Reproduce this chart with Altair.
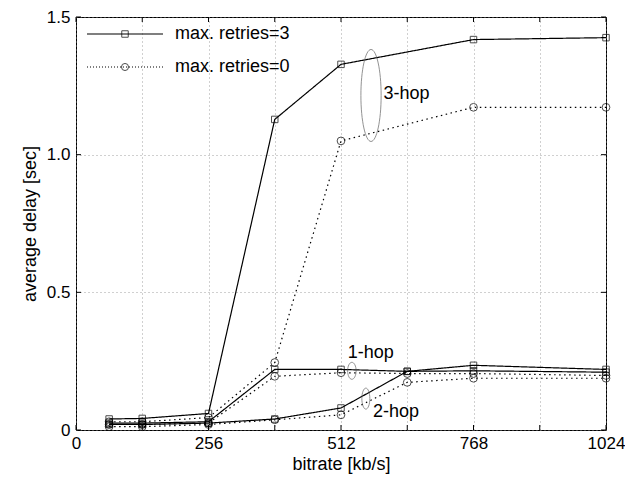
import altair as alt
import pandas as pd

# ---------------- data ----------------
bitrate = [64, 128, 256, 384, 512, 640, 768, 1024]
hop3_r3 = [0.040, 0.042, 0.060, 1.128, 1.328, None, 1.418, 1.425]
hop3_r0 = [0.030, 0.030, 0.045, 0.245, 1.050, None, 1.172, 1.172]
hop1_r3 = [0.025, 0.025, 0.030, 0.220, 0.220, 0.213, 0.235, 0.220]
hop1_r0 = [0.020, 0.020, 0.025, 0.195, 0.208, 0.205, 0.205, 0.198]
hop2_r3 = [0.020, 0.020, 0.025, 0.040, 0.080, 0.213, 0.215, 0.210]
hop2_r0 = [0.012, 0.012, 0.020, 0.037, 0.055, 0.173, 0.188, 0.188]

retry_labels = ["max. retries=3", "max. retries=0"]
x_tick_values = [0, 128, 256, 384, 512, 640, 768, 896, 1024]
y_tick_values = [0, 0.5, 1.0, 1.5]

series = [
    ("3-hop", retry_labels[0], hop3_r3),
    ("3-hop", retry_labels[1], hop3_r0),
    ("1-hop", retry_labels[0], hop1_r3),
    ("1-hop", retry_labels[1], hop1_r0),
    ("2-hop", retry_labels[0], hop2_r3),
    ("2-hop", retry_labels[1], hop2_r0),
]
rows = []
for hop, ret, vals in series:
    for b, v in zip(bitrate, vals):
        if v is not None:
            rows.append({"bitrate": b, "delay": v, "hop": hop,
                         "retries": ret, "series": hop + " " + ret})
df = pd.DataFrame(rows)

FONT = "Liberation Sans"
FS = 18
LFS = 17
W, H = 530, 413
XT = "bitrate [kb/s]"
YT = "average delay [sec]"

x_scale = alt.Scale(domain=[0, 1024], nice=False, zero=False)
y_scale = alt.Scale(domain=[0, 1.5], nice=False)

x_axis = alt.Axis(values=x_tick_values, title=XT,
                  labelExpr="datum.value % 256 == 0 ? format(datum.value, 'd') : ''",
                  grid=True, gridDash=[1, 3], gridColor="#888", gridWidth=0.8,
                  ticks=False, domain=False, labelPadding=5, titlePadding=4,
                  labelFlush=False)
y_axis = alt.Axis(values=y_tick_values, title=YT,
                  labelExpr="datum.value == 0 ? '0' : format(datum.value, '.1f')",
                  grid=True, gridDash=[1, 3], gridColor="#888", gridWidth=0.8,
                  ticks=False, domain=False, labelPadding=6, titlePadding=7,
                  labelFlush=False)

dash_scale = alt.Scale(domain=retry_labels, range=[[1, 0], [1.5, 3.5]])
shape_scale = alt.Scale(domain=retry_labels, range=["square", "circle"])
size_scale = alt.Scale(domain=retry_labels, range=[42, 60])

def X(field):
    return alt.X(field, scale=x_scale, title=XT)

def Y(field):
    return alt.Y(field, scale=y_scale, title=YT)

base = alt.Chart(df)
lines = base.mark_line(color="black", strokeWidth=1.2).encode(
    x=alt.X("bitrate:Q", scale=x_scale, axis=x_axis),
    y=alt.Y("delay:Q", scale=y_scale, axis=y_axis),
    detail="series:N",
    strokeDash=alt.StrokeDash("retries:N", scale=dash_scale, legend=None),
)
points = base.mark_point(color="black", filled=False, strokeWidth=1).encode(
    x=X("bitrate:Q"),
    y=Y("delay:Q"),
    shape=alt.Shape("retries:N", scale=shape_scale, legend=None),
    size=alt.Size("retries:N", scale=size_scale, legend=None),
)

# inward ticks
xt = alt.Chart(pd.DataFrame({"t": x_tick_values}))
yt = alt.Chart(pd.DataFrame({"t": y_tick_values}))
tick_bottom = xt.mark_rule(color="black").encode(
    x=X("t:Q"), y=alt.value(H), y2=alt.value(H - 5))
tick_top = xt.mark_rule(color="black").encode(
    x=X("t:Q"), y=alt.value(0), y2=alt.value(5))
tick_left = yt.mark_rule(color="black").encode(
    y=Y("t:Q"), x=alt.value(0), x2=alt.value(5))
tick_right = yt.mark_rule(color="black").encode(
    y=Y("t:Q"), x=alt.value(W), x2=alt.value(W - 5))

one = alt.Data(values=[{}])

# legend (manual)
def legend_row(label, ypix, dash, shape, size):
    line = alt.Chart(one).mark_rule(color="black", strokeWidth=1.1, strokeDash=dash).encode(
        x=alt.value(11), x2=alt.value(87), y=alt.value(ypix))
    mk = alt.Chart(one).mark_point(color="black", filled=False, shape=shape, size=size,
                                   strokeWidth=1).encode(
        x=alt.value(49), y=alt.value(ypix))
    tx = alt.Chart(one).mark_text(align="left", baseline="middle", font=FONT,
                                  fontSize=FS, color="black").encode(
        x=alt.value(99), y=alt.value(ypix), text=alt.value(label))
    return [line, mk, tx]

legend_layers = (legend_row(retry_labels[0], 17, [1, 0], "square", 42)
                 + legend_row(retry_labels[1], 50, [1, 2], "circle", 50))

# annotations: hop groups
def ellipse(xv, yv, ry_px, ratio):
    path = f"M0,-1 A{ratio},1 0 1,1 0,1 A{ratio},1 0 1,1 0,-1 Z"
    return alt.Chart(one).mark_point(shape=path, size=(2 * ry_px) ** 2, filled=False,
                                     color="#555", strokeWidth=0.9).encode(
        x=X("xv:Q"), y=Y("yv:Q"),
    ).transform_calculate(xv=str(xv), yv=str(yv))

def label(txt, xv, yv):
    return alt.Chart(one).mark_text(align="left", baseline="middle", font=FONT,
                                    fontSize=FS, color="black").encode(
        x=X("xv:Q"), y=Y("yv:Q"),
        text=alt.value(txt),
    ).transform_calculate(xv=str(xv), yv=str(yv))

annots = [
    ellipse(570, 1.215, 46, 0.22), label("3-hop", 594, 1.219),
    ellipse(533, 0.215, 8.5, 0.5), label("1-hop", 525, 0.278),
    ellipse(560, 0.114, 10.5, 0.38), label("2-hop", 574, 0.065),
]

chart = alt.layer(
    lines, points, tick_bottom, tick_top, tick_left, tick_right,
    *legend_layers, *annots
).properties(
    width=W, height=H,
    autosize=alt.AutoSizeParams(type="none"),
    padding={"left": 68, "top": 9, "right": 19, "bottom": 48},
).configure_view(
    stroke="black", strokeWidth=1
).configure_axis(
    labelFont=FONT, titleFont=FONT, labelFontSize=LFS, titleFontSize=FS,
    titleFontWeight="normal", labelColor="black", titleColor="black"
)

chart.save("out.html", embed_options={"renderer": "svg", "actions": False})
